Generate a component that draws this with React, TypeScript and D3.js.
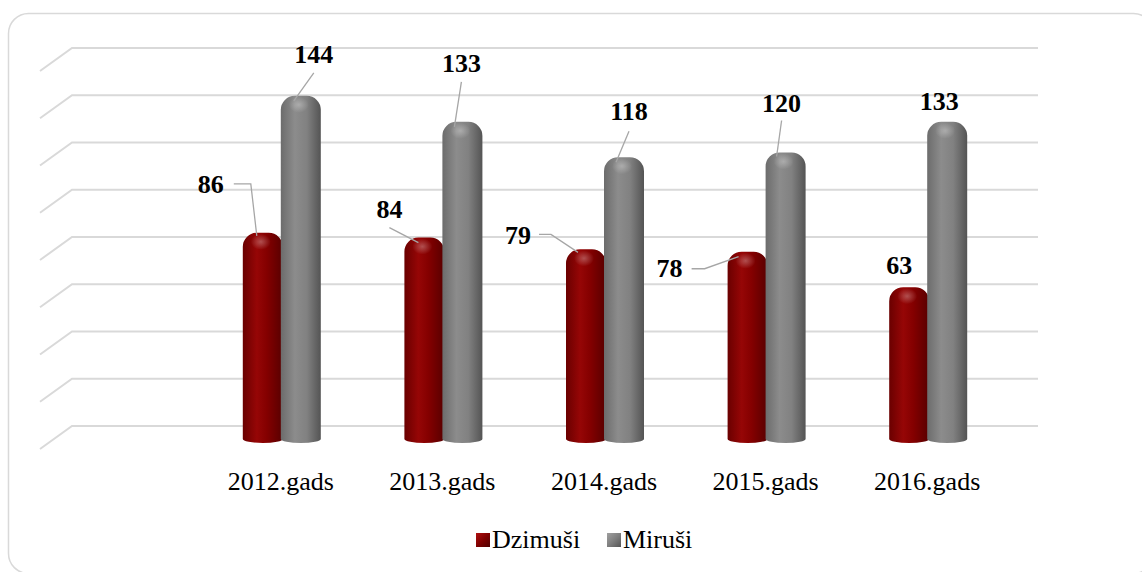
import React from 'react';
import * as d3 from 'd3';

const categories = ['2012.gads', '2013.gads', '2014.gads', '2015.gads', '2016.gads'];
const seriesNames = ['Dzimuši', 'Miruši'];
const dzimusi = [86, 84, 79, 78, 63];
const mirusi = [144, 133, 118, 120, 133];
const gridTicks = [0, 20, 40, 60, 80, 100, 120, 140, 160];

// hand placed data labels (offsets from the bar top centre), like in the original
const labelNudge = [
  [
    {dx: -52, dy: -40, leader: [[-29, -49], [-12, -49], [-6, 3]]},
    {dx: -35, dy: -20, leader: [[-35, -10], [-6, 5]]},
    {dx: -68, dy: -5, leader: [[-47, -15], [-35, -15], [-8, 3]]},
    {dx: -78, dy: 25, leader: [[-56, 17], [-43, 17], [-9, 5]]},
    {dx: -10, dy: -13, leader: null},
  ],
  [
    {dx: 13, dy: -33, leader: [[13, -23], [-7, 5]]},
    {dx: -1, dy: -50, leader: [[-1, -40], [-8, 5]]},
    {dx: 5, dy: -37, leader: [[5, -26], [-8, 5]]},
    {dx: -4, dy: -41, leader: [[-4, -32], [-9, 4]]},
    {dx: -8, dy: -12, leader: null},
  ],
];

const width = 1142;
const height = 572;
const depthX = 32;
const depthY = -23;
const serif = {fontFamily: "'Liberation Serif', 'Times New Roman', serif"};

export default function App() {
  const x0 = d3.scaleBand().domain(categories).range([199, 1007]);
  const x1 = d3.scaleBand().domain(seriesNames).range([-37, 39]);
  const y = d3.scaleLinear().domain([0, 160]).range([436, 58]);
  const values = [dzimusi, mirusi];
  const gradIds = ['gRed', 'gGray'];

  const barPath = (xa, w, yt, yb) => {
    const r = 14;
    const xb = xa + w;
    return `M${xa},${yb} L${xa},${yt + r} A${r},${r} 0 0 1 ${xa + r},${yt} L${xb - r},${yt} A${r},${r} 0 0 1 ${xb},${yt + r} L${xb},${yb} A${w / 2},4 0 0 1 ${xa},${yb} Z`;
  };

  const line = d3.line();

  return (
    <svg width={width} height={height} style={{position: 'absolute', left: 0, top: 0}}>
      <defs>
        <linearGradient id="gRed" x1="0" x2="1" y1="0" y2="0">
          <stop offset="0" stopColor="#6a0000" />
          <stop offset="0.35" stopColor="#960606" />
          <stop offset="0.6" stopColor="#840000" />
          <stop offset="1" stopColor="#580000" />
        </linearGradient>
        <linearGradient id="gGray" x1="0" x2="1" y1="0" y2="0">
          <stop offset="0" stopColor="#6c6c6c" />
          <stop offset="0.35" stopColor="#8c8c8c" />
          <stop offset="0.65" stopColor="#818181" />
          <stop offset="1" stopColor="#545454" />
        </linearGradient>
        <radialGradient id="gShine" cx="0.5" cy="0.5" r="0.5">
          <stop offset="0" stopColor="#ffffff" stopOpacity="0.3" />
          <stop offset="1" stopColor="#ffffff" stopOpacity="0" />
        </radialGradient>
        <linearGradient id="lRed" x1="0" x2="1" y1="0" y2="1">
          <stop offset="0" stopColor="#b01010" />
          <stop offset="0.5" stopColor="#800000" />
          <stop offset="1" stopColor="#500000" />
        </linearGradient>
        <linearGradient id="lGray" x1="0" x2="1" y1="0" y2="1">
          <stop offset="0" stopColor="#a0a0a0" />
          <stop offset="0.5" stopColor="#7f7f7f" />
          <stop offset="1" stopColor="#555555" />
        </linearGradient>
      </defs>

      <rect x={8.5} y={13.5} width={1145} height={560} rx={20} fill="#fff" stroke="#d9d9d9" strokeWidth={1.5} />

      {gridTicks.map(t => {
        const gy = y(t) - 10;
        return (
          <path key={t} d={`M${72 - depthX},${gy - depthY} L72,${gy} L1038,${gy}`}
            fill="none" stroke="#d9d9d9" strokeWidth={2} />
        );
      })}

      {categories.map((c, i) => {
        const cx = x0(c) + x0.bandwidth() / 2;
        return (
          <g key={c}>
            {seriesNames.map((s, k) => {
              const v = values[k][i];
              const xa = cx + x1(s);
              const w = x1.bandwidth() + 2;
              const yt = y(v);
              return (
                <g key={s}>
                  <path d={barPath(xa, w, yt, y(0) + 3)} fill={`url(#${gradIds[k]})`} />
                  <ellipse cx={xa + w * 0.45} cy={yt + 9} rx={10} ry={8} fill="url(#gShine)" />
                </g>
              );
            })}
            <text x={cx + 1} y={490} textAnchor="middle" fontSize={26} fill="#000" style={serif}>{c}</text>
          </g>
        );
      })}

      {seriesNames.map((s, k) =>
        categories.map((c, i) => {
          const v = values[k][i];
          const bx = x0(c) + x0.bandwidth() / 2 + x1(s) + (x1.bandwidth() + 2) / 2;
          const by = y(v);
          const n = labelNudge[k][i];
          return (
            <g key={s + c}>
              {n.leader && (
                <path d={line(n.leader.map(p => [bx + p[0], by + p[1]]))} fill="none" stroke="#a6a6a6" strokeWidth={1.3} />
              )}
              <text x={bx + n.dx} y={by + n.dy} textAnchor="middle" fontSize={26} fontWeight="bold" fill="#000" style={serif}>{v}</text>
            </g>
          );
        })
      )}

      <g>
        <rect x={476} y={533} width={14} height={14} fill="url(#lRed)" />
        <text x={492} y={548} fontSize={26} fill="#000" style={serif}>{seriesNames[0]}</text>
        <rect x={607} y={533} width={14} height={14} fill="url(#lGray)" />
        <text x={623} y={548} fontSize={26} fill="#000" style={serif}>{seriesNames[1]}</text>
      </g>
    </svg>
  );
}
